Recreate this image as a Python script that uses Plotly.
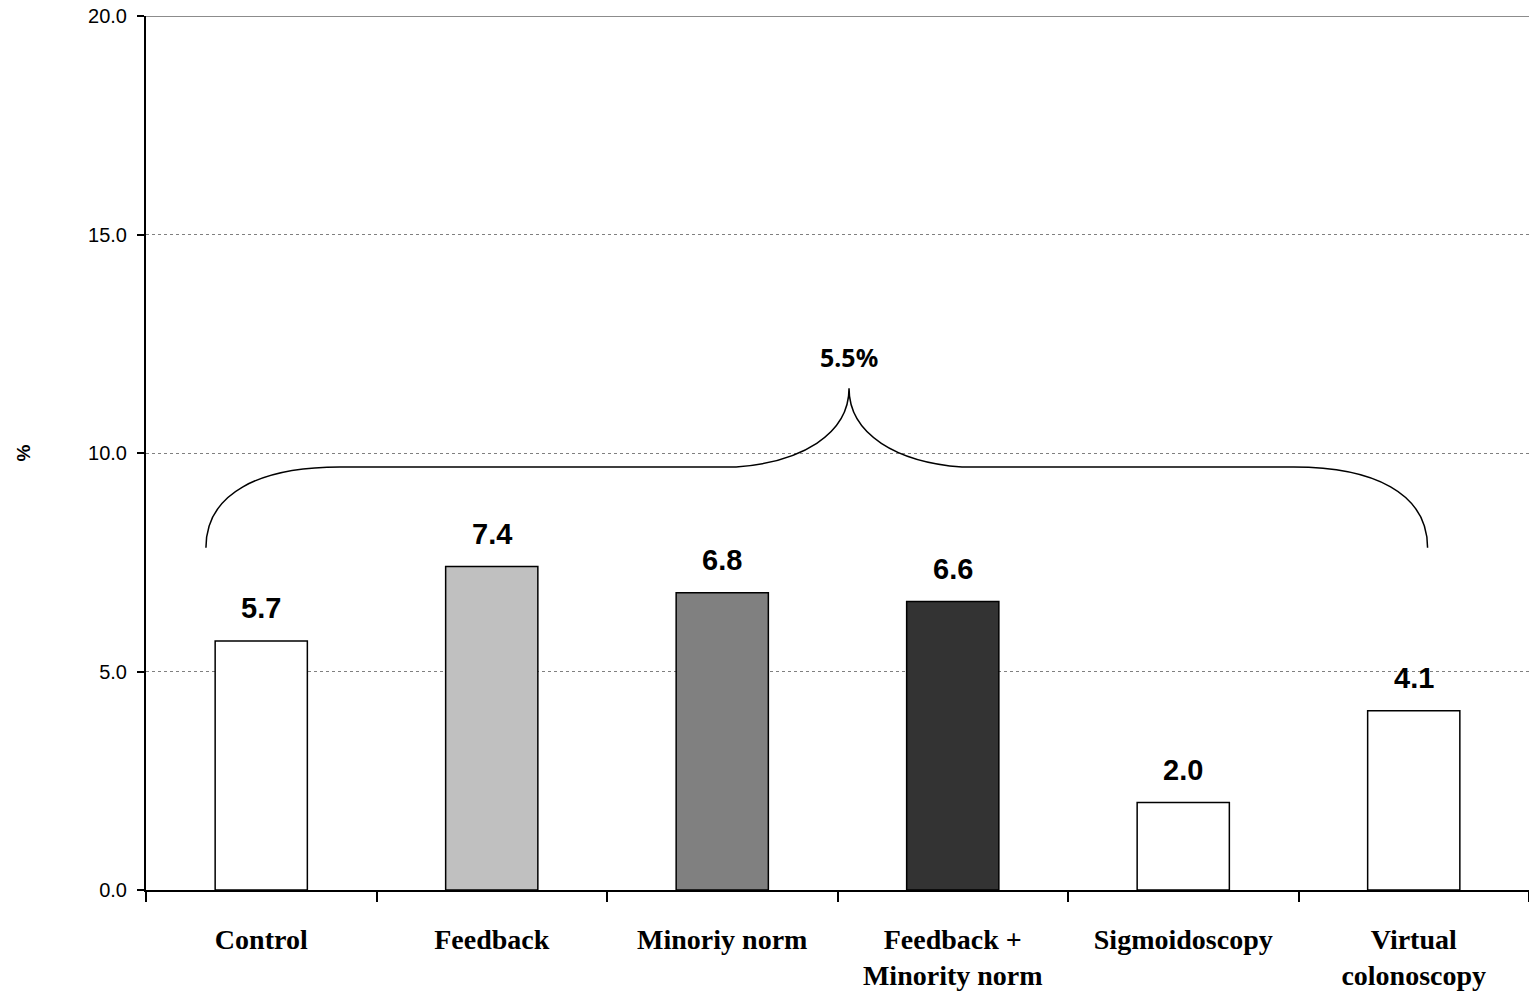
import plotly.graph_objects as go

categories = ["Control", "Feedback", "Minoriy norm", "Feedback +<br>Minority norm",
              "Sigmoidoscopy", "Virtual<br>colonoscopy"]
values = [5.7, 7.4, 6.8, 6.6, 2.0, 4.1]
value_labels = ["5.7", "7.4", "6.8", "6.6", "2.0", "4.1"]
bar_colors = ["#ffffff", "#c0c0c0", "#808080", "#333333", "#ffffff", "#ffffff"]
y_ticks = [0, 5, 10, 15, 20]
y_tick_labels = ["0.0", "5.0", "10.0", "15.0", "20.0"]

# bracket (curly brace) annotation in data units
brace_label = "5.5%"
brace_x_left, brace_x_right, brace_x_peak = -0.24, 5.06, 2.55
brace_y_base, brace_y_bar, brace_y_peak = 7.83, 9.68, 11.48
brace_label_y = 12.2

xs = list(range(len(categories)))

fig = go.Figure()
fig.add_trace(go.Bar(
    x=xs, y=values, width=0.4,
    marker=dict(color=bar_colors, line=dict(color="black", width=1.5)),
    hoverinfo="skip",
))

for x, v, t in zip(xs, values, value_labels):
    fig.add_annotation(x=x, y=v, text=f"<b>{t}</b>", showarrow=False,
                       yanchor="bottom", yshift=15,
                       font=dict(family="Liberation Sans, Arial", size=29, color="black"))

# brace path
xl, xr, xp = brace_x_left, brace_x_right, brace_x_peak
yb, ym, yp = brace_y_base, brace_y_bar, brace_y_peak
dy1 = ym - yb
dy2 = yp - ym
path = (
    f"M {xl},{yb} "
    f"C {xl},{yb + 0.68*dy1} {xl + 0.234},{ym} {xl + 0.581},{ym} "
    f"L {xp - 0.49},{ym} "
    f"C {xp - 0.21},{ym + 0.06*dy2} {xp},{ym + 0.41*dy2} {xp},{yp} "
    f"C {xp},{ym + 0.41*dy2} {xp + 0.21},{ym + 0.06*dy2} {xp + 0.49},{ym} "
    f"L {xr - 0.581},{ym} "
    f"C {xr - 0.234},{ym} {xr},{yb + 0.68*dy1} {xr},{yb}"
)
fig.add_shape(type="path", path=path, xref="x", yref="y",
              line=dict(color="black", width=1.5))
fig.add_annotation(x=xp, y=brace_label_y, text=f"<b>{brace_label}</b>", showarrow=False,
                   font=dict(family="Noto Sans, Liberation Sans", size=25, color="black"))

# top border line at 20
fig.add_shape(type="line", xref="paper", yref="y", x0=0, x1=1, y0=20, y1=20,
              line=dict(color="#8c8c8c", width=2))

fig.update_layout(
    width=1529, height=996,
    margin=dict(l=146, r=0, t=16, b=106),
    plot_bgcolor="white", paper_bgcolor="white",
    showlegend=False,
    bargap=0.6,
)
fig.update_xaxes(
    range=[-0.5, 5.5],
    tickvals=xs, ticktext=[f"<b>{c}</b>" for c in categories],
    ticks="", showgrid=False,
    showline=True, linecolor="black", linewidth=2,
    tickfont=dict(family="Liberation Serif, Times New Roman", size=28, color="black"),
    ticklabelstandoff=23,
    ticklabeloverflow="allow",
    automargin=False,
    minor=dict(tickvals=[i - 0.5 for i in range(len(categories) + 1)], ticks="outside",
               ticklen=10, tickwidth=2, tickcolor="black", showgrid=False),
    zeroline=False,
)
fig.update_yaxes(
    range=[0, 20],
    tickvals=y_ticks, ticktext=y_tick_labels,
    ticks="outside", ticklen=7, tickwidth=2, tickcolor="black",
    showline=True, linecolor="black", linewidth=2,
    showgrid=True, gridcolor="#808080", gridwidth=1, griddash="dot",
    tickfont=dict(family="Liberation Sans, Arial", size=20, color="black"),
    ticklabelstandoff=6,
    ticklabeloverflow="allow",
    automargin=False,
    title=dict(text="<b>%</b>", standoff=52,
               font=dict(family="Liberation Sans, Arial", size=19, color="black")),
    zeroline=False,
)

fig.write_html("out.html",
               config={"displayModeBar": False},
               post_script="document.body.style.margin='0';document.body.style.overflow='hidden';")
